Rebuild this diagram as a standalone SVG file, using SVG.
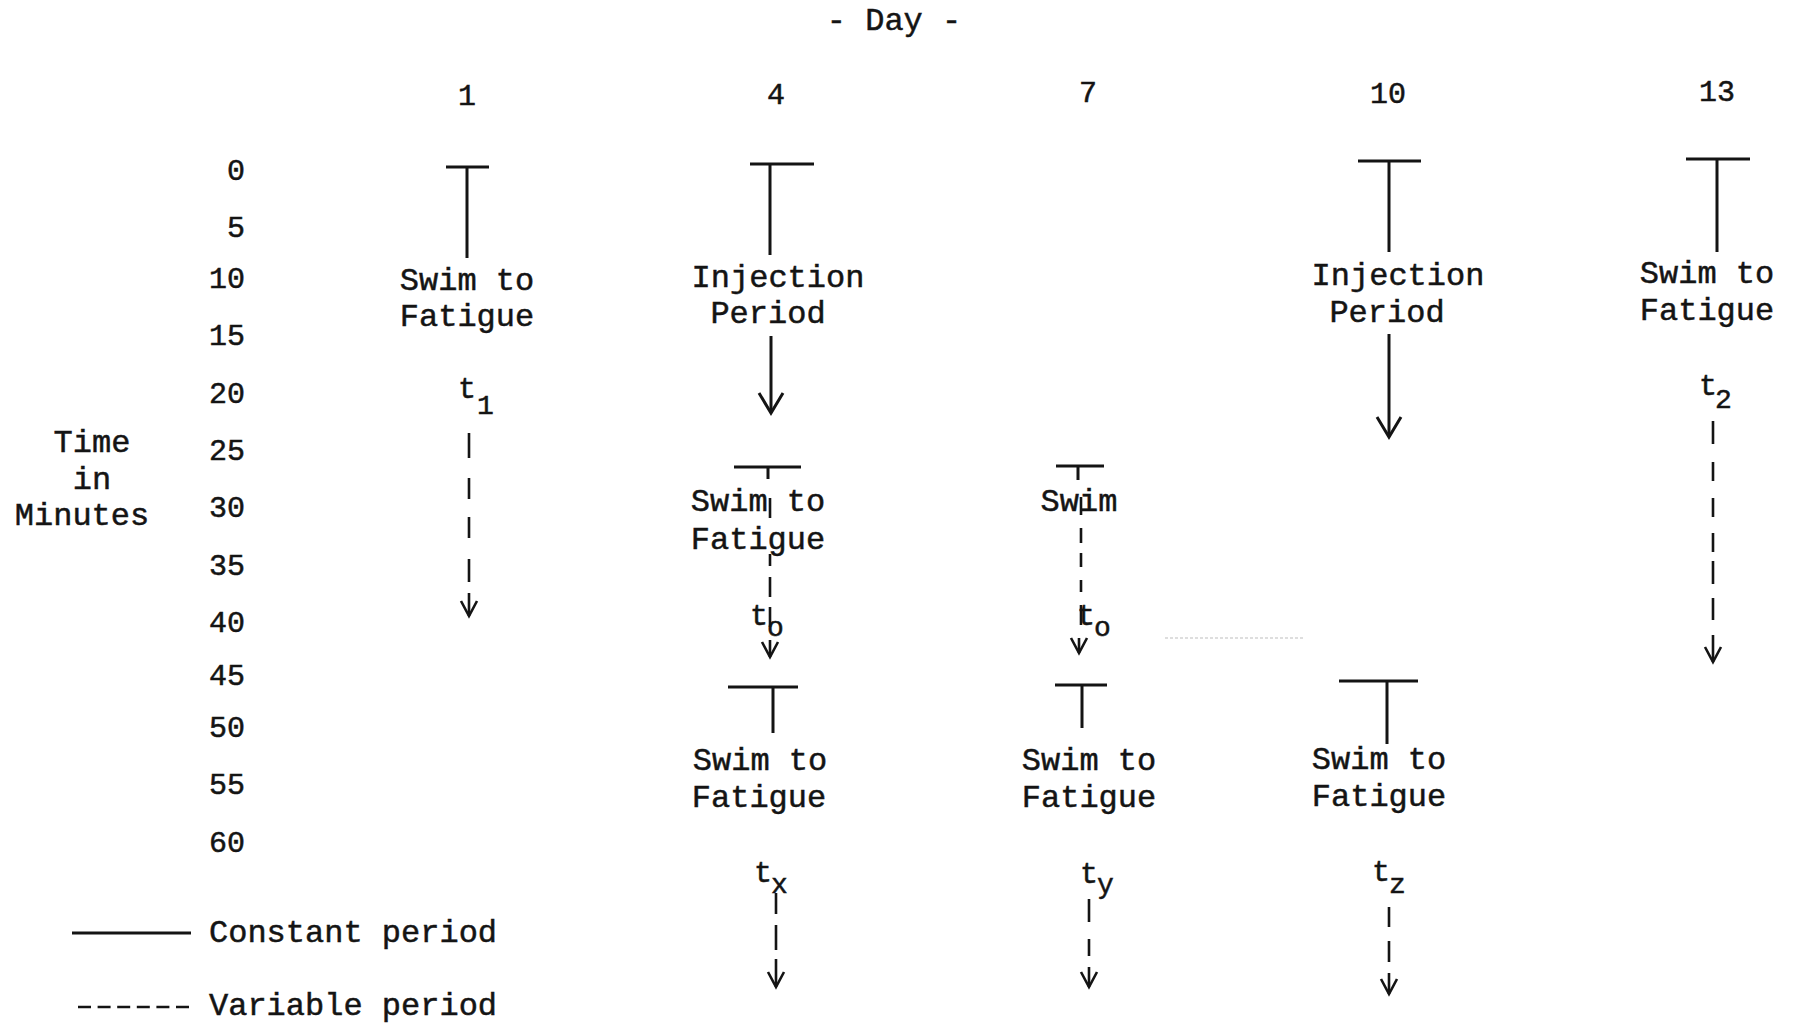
<svg xmlns="http://www.w3.org/2000/svg" width="1795" height="1023" viewBox="0 0 1795 1023">
<style>
text{font-family:"Liberation Mono","Courier New",monospace;fill:#141414;stroke:#141414;stroke-width:0.5}
.lbl{font-size:32px}
.num{font-size:30px}
.tt{font-size:30px}
.sub{font-size:28px}
.c{text-anchor:middle}
.e{text-anchor:end}
.ln{stroke:#141414;stroke-width:3;fill:none;stroke-linecap:butt}
.dl{stroke:#141414;stroke-width:2.6;fill:none}
</style>
<defs>
<marker id="ahL" markerUnits="userSpaceOnUse" orient="auto" markerWidth="1" markerHeight="1" style="overflow:visible"><path d="M -20 -12 L 0 0 L -20 12" fill="none" stroke="#141414" stroke-width="3"/></marker>
<marker id="ahS" markerUnits="userSpaceOnUse" orient="auto" markerWidth="1" markerHeight="1" style="overflow:visible"><path d="M -15 -8 L 0 0 L -15 8" fill="none" stroke="#141414" stroke-width="2.6"/></marker>
</defs>
<rect width="1795" height="1023" fill="#ffffff"/>

<g id="axis">
<text class="lbl c" x="894" y="30">- Day -</text>
<text class="num c" x="467" y="105">1</text>
<text class="num c" x="776" y="104">4</text>
<text class="num c" x="1088" y="102">7</text>
<text class="num c" x="1388" y="103">10</text>
<text class="num c" x="1717" y="101">13</text>
<text class="num e" x="245" y="180">0</text>
<text class="num e" x="245" y="237">5</text>
<text class="num e" x="245" y="288">10</text>
<text class="num e" x="245" y="345">15</text>
<text class="num e" x="245" y="403">20</text>
<text class="num e" x="245" y="460">25</text>
<text class="num e" x="245" y="517">30</text>
<text class="num e" x="245" y="575">35</text>
<text class="num e" x="245" y="632">40</text>
<text class="num e" x="245" y="685">45</text>
<text class="num e" x="245" y="737">50</text>
<text class="num e" x="245" y="794">55</text>
<text class="num e" x="245" y="852">60</text>
<text class="lbl c" x="92" y="452">Time</text>
<text class="lbl c" x="92" y="489">in</text>
<text class="lbl c" x="82" y="525">Minutes</text>
</g>

<g id="day1">
<text class="lbl c" x="467" y="290">Swim to</text>
<text class="lbl c" x="467" y="326">Fatigue</text>
<text class="tt" x="458" y="398">t</text><text class="sub" x="477" y="414">1</text>
</g>

<g id="day4">
<text class="lbl c" x="778" y="287">Injection</text>
<text class="lbl c" x="768" y="323">Period</text>
<text class="lbl c" x="758" y="511">Swim to</text>
<text class="lbl c" x="758" y="549">Fatigue</text>
<text class="tt" x="750" y="625">t</text><text class="sub" x="767" y="636">o</text>
<text class="lbl c" x="760" y="770">Swim to</text>
<text class="lbl c" x="759" y="807">Fatigue</text>
<text class="tt" x="754" y="882">t</text><text class="sub" x="771" y="893">x</text>
</g>

<g id="day7">
<text class="lbl c" x="1079" y="511">Swim</text>
<text class="tt" x="1077" y="625">t</text><text class="sub" x="1094" y="636">o</text>
<text class="lbl c" x="1089" y="770">Swim to</text>
<text class="lbl c" x="1089" y="807">Fatigue</text>
<text class="tt" x="1080" y="883">t</text><text class="sub" x="1097" y="893">y</text>
</g>

<g id="day10">
<text class="lbl c" x="1398" y="285">Injection</text>
<text class="lbl c" x="1387" y="322">Period</text>
<text class="lbl c" x="1379" y="769">Swim to</text>
<text class="lbl c" x="1379" y="806">Fatigue</text>
<text class="tt" x="1372" y="881">t</text><text class="sub" x="1389" y="893">z</text>
</g>

<g id="day13">
<text class="lbl c" x="1707" y="283">Swim to</text>
<text class="lbl c" x="1707" y="320">Fatigue</text>
<text class="tt" x="1699" y="395">t</text><text class="sub" x="1715" y="408">2</text>
</g>

<g id="legend">
<path class="ln" d="M 72 933 H 191"/>
<text class="lbl" x="209" y="942">Constant period</text>
<path class="dl" d="M 78 1007 H 189" stroke-dasharray="13 6.6"/>
<text class="lbl" x="209" y="1015">Variable period</text>
</g>

<g id="connectors">
<path class="ln" d="M 446 167 H 489 M 467 167 V 258"/>
<path class="ln" d="M 750 164 H 814 M 770 164 V 255"/>
<path class="ln" d="M 771 336 V 413" marker-end="url(#ahL)"/>
<path class="ln" d="M 734 467 H 801 M 768 467 V 479"/>
<path class="ln" d="M 728 687 H 798 M 773 687 V 733"/>
<path class="ln" d="M 1056 466 H 1104 M 1078 466 V 480"/>
<path class="ln" d="M 1055 685 H 1107 M 1082 685 V 728"/>
<path class="ln" d="M 1358 161 H 1421 M 1389 161 V 252"/>
<path class="ln" d="M 1389 334 V 437" marker-end="url(#ahL)"/>
<path class="ln" d="M 1339 681 H 1418 M 1387 681 V 744"/>
<path class="ln" d="M 1686 159 H 1750 M 1717 159 V 252"/>
<path class="dl" d="M 469 433 V 458 M 469 478 V 499 M 469 517 V 538 M 469 559 V 582 M 469 593 V 616" marker-end="url(#ahS)"/>
<path class="dl" d="M 770 498 V 518 M 770 554 V 566 M 770 577 V 597 M 770 607 V 627 M 770 640 V 657" marker-end="url(#ahS)"/>
<path class="dl" d="M 1081 497 V 515 M 1081 528 V 543 M 1081 553 V 567 M 1081 580 V 592 M 1081 605 V 625 M 1079 638 V 653" marker-end="url(#ahS)"/>
<path class="dl" d="M 1713 421 V 444 M 1713 462 V 481 M 1713 498 V 517 M 1713 533 V 552 M 1713 561 V 584 M 1713 598 V 620 M 1713 635 V 662" marker-end="url(#ahS)"/>
<path class="dl" d="M 776 893 V 914 M 776 925 V 950 M 776 959 V 987" marker-end="url(#ahS)"/>
<path class="dl" d="M 1089 899 V 922 M 1089 939 V 956 M 1089 967 V 987" marker-end="url(#ahS)"/>
<path class="dl" d="M 1389 907 V 927 M 1389 941 V 962 M 1389 973 V 994" marker-end="url(#ahS)"/>
<path d="M 1165 638 H 1305" stroke="#bdbdbd" stroke-width="1.2" stroke-dasharray="3 2" fill="none"/>
</g>
</svg>
